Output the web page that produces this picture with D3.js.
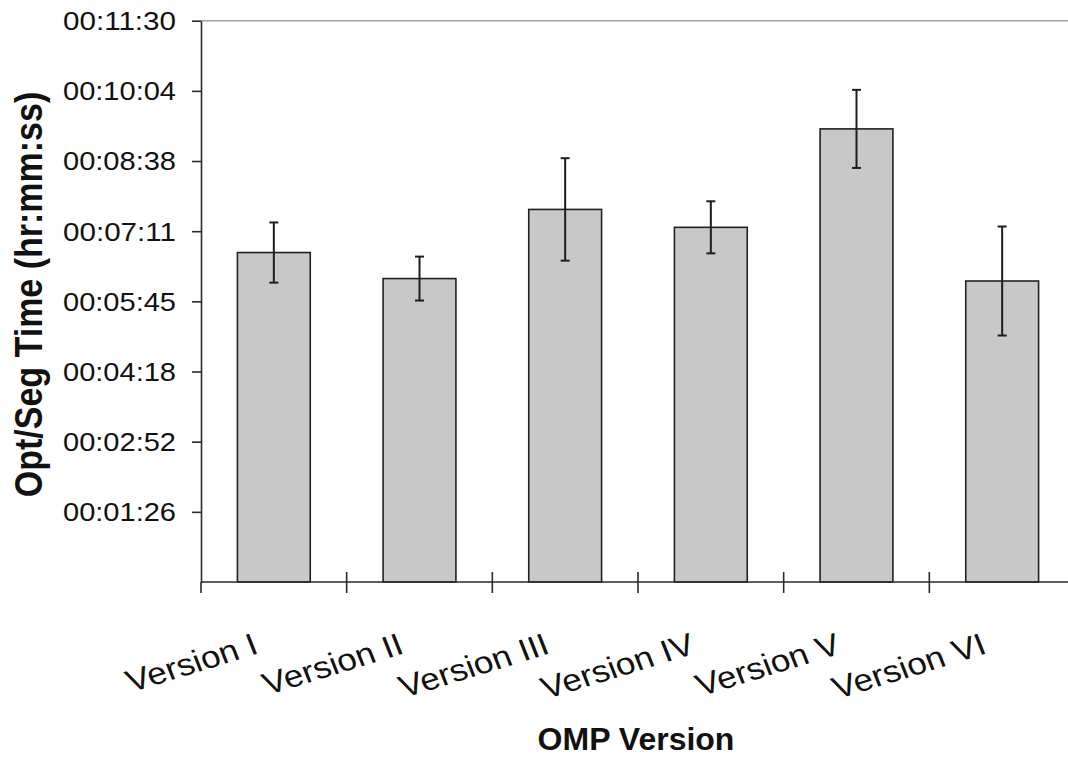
<!DOCTYPE html>
<html>
<head>
<meta charset="utf-8">
<script src="https://cdn.jsdelivr.net/npm/d3@7"></script>
<style>
  html, body { margin: 0; padding: 0; background: #fff; }
  svg { display: block; font-family: "Liberation Sans", Arial, sans-serif; }
</style>
</head>
<body>
<svg id="chart" width="1068" height="757"></svg>
<script>
// Mean optimisation/segmentation time per OMP version, in seconds
const versions = ["Version I", "Version II", "Version III", "Version IV", "Version V", "Version VI"];
const meanSeconds = [405, 373, 458, 436, 557, 370];
const errorSeconds = [37, 27, 63, 32, 48, 67];

// Value-axis ticks (seconds) and their hr:mm:ss labels
const yTickValues = [86.25, 172.5, 258.75, 345, 431.25, 517.5, 603.75, 690];
const yTickLabels = ["00:01:26", "00:02:52", "00:04:18", "00:05:45", "00:07:11", "00:08:38", "00:10:04", "00:11:30"];
const yMax = 690;

const svg = d3.select("#chart");
const plotLeft = 201, plotRight = 1075, plotTop = 20.7, plotBottom = 582;
const sx = 1.13; // horizontal text stretch

const x = d3.scaleBand().domain(versions).range([plotLeft, plotRight]).paddingInner(0.5).paddingOuter(0.25);
const y = d3.scaleLinear().domain([0, yMax]).range([plotBottom, plotTop]);
const step = x.step();
const axisColor = "#2a2a2a";
const textColor = "#111";

// top gridline at the axis maximum
svg.append("line")
  .attr("x1", plotLeft).attr("x2", 1068)
  .attr("y1", y(yMax)).attr("y2", y(yMax))
  .attr("stroke", "#a3a3a3").attr("stroke-width", 1.5);

// bars
svg.append("g").selectAll("rect")
  .data(versions)
  .join("rect")
  .attr("x", d => x(d))
  .attr("y", (d, i) => y(meanSeconds[i]))
  .attr("width", x.bandwidth())
  .attr("height", (d, i) => y(0) - y(meanSeconds[i]))
  .attr("fill", "#c8c8c8")
  .attr("stroke", "#222")
  .attr("stroke-width", 1.6);

// error bars
const eb = svg.append("g").attr("stroke", "#1e1e1e").attr("stroke-width", 2);
versions.forEach((v, i) => {
  const cx = x(v) + x.bandwidth() / 2;
  const hi = y(meanSeconds[i] + errorSeconds[i]);
  const lo = y(meanSeconds[i] - errorSeconds[i]);
  eb.append("line").attr("x1", cx).attr("x2", cx).attr("y1", hi).attr("y2", lo);
  eb.append("line").attr("x1", cx - 4.5).attr("x2", cx + 4.5).attr("y1", hi).attr("y2", hi);
  eb.append("line").attr("x1", cx - 4.5).attr("x2", cx + 4.5).attr("y1", lo).attr("y2", lo);
});

// value axis
const yAxis = d3.axisLeft(y)
  .tickValues(yTickValues)
  .tickSize(9)
  .tickSizeOuter(0)
  .tickFormat((d, i) => yTickLabels[i]);
const gy = svg.append("g").attr("transform", `translate(${plotLeft},0)`).call(yAxis);
gy.select(".domain").attr("stroke", axisColor).attr("stroke-width", 1.6);
gy.selectAll(".tick line").attr("stroke", axisColor).attr("stroke-width", 1.6);
gy.selectAll(".tick text")
  .attr("x", -25)
  .attr("dy", "0.35em")
  .attr("fill", textColor)
  .style("font-size", "25.5px")
  .attr("textLength", 113)
  .attr("lengthAdjust", "spacingAndGlyphs");

// category axis: line and crossing tick marks between categories
svg.append("line")
  .attr("x1", plotLeft).attr("x2", 1068)
  .attr("y1", plotBottom).attr("y2", plotBottom)
  .attr("stroke", axisColor).attr("stroke-width", 1.6);
const boundaries = d3.range(versions.length + 1).map(i => plotLeft + i * step);
svg.append("g").selectAll("line")
  .data(boundaries)
  .join("line")
  .attr("x1", d => d).attr("x2", d => d)
  .attr("y1", (d, i) => i === 0 ? plotBottom : plotBottom - 10)
  .attr("y2", plotBottom + 11)
  .attr("stroke", axisColor).attr("stroke-width", 1.6);

// slanted category labels
svg.append("g").selectAll("text")
  .data(versions)
  .join("text")
  .attr("transform", d => `translate(${x(d) + x.bandwidth() / 2 - 14},653) scale(${sx},1) rotate(-19.1)`)
  .attr("text-anchor", "end")
  .attr("fill", textColor)
  .style("font-size", "31px")
  .text(d => d);

// axis titles
svg.append("text")
  .attr("transform", `translate(42,294.5) scale(${sx},1) rotate(-90)`)
  .attr("text-anchor", "middle")
  .attr("fill", textColor)
  .style("font-size", "34px")
  .style("font-weight", "bold")
  .text("Opt/Seg Time (hr:mm:ss)");

svg.append("text")
  .attr("x", 636).attr("y", 750)
  .attr("text-anchor", "middle")
  .attr("fill", textColor)
  .style("font-size", "32px")
  .style("font-weight", "bold")
  .text("OMP Version");
</script>
</body>
</html>
